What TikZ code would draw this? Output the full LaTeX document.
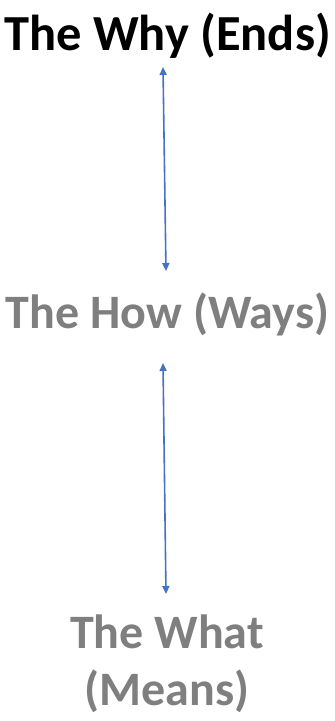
\documentclass[tikz,border=0pt]{standalone}
\usepackage{fontspec}
\setmainfont{Carlito}
\usetikzlibrary{arrows.meta}
\definecolor{arrowblue}{HTML}{4472C4}
\definecolor{labelgray}{HTML}{7F7F7F}
\tikzset{
  label/.style={font=\fontsize{48}{57}\selectfont\bfseries, anchor=base, inner sep=0pt, align=center},
  biglabel/.style={label, font=\fontsize{50.5}{60}\selectfont\bfseries},
  link/.style={draw=arrowblue, line width=1.6pt, {Triangle[length=8pt,width=7pt]}-{Triangle[length=8pt,width=7pt]}}
}
\begin{document}
\begin{tikzpicture}[x=1pt,y=-1pt]
\useasboundingbox (0,0) rectangle (335,721);
\node[biglabel, text=black] (why) at (167.5,50) {The Why (Ends)};
\node[label, text=labelgray] (how) at (167.5,328) {The How (Ways)};
\node[label, text=labelgray] (what) at (167,705) {The What\\(Means)};
\coordinate (a1) at (163,67);
\coordinate (a2) at (166,271);
\coordinate (b1) at (163,363);
\coordinate (b2) at (166,594);
\draw[link] (a1) -- (a2);
\draw[link] (b1) -- (b2);
\end{tikzpicture}
\end{document}
